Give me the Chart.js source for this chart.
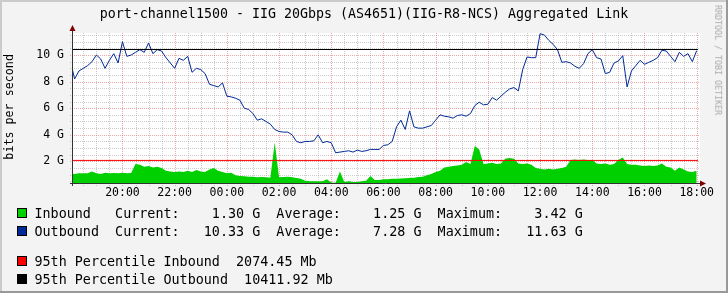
<!DOCTYPE html>
<html><head><meta charset="utf-8">
<script src="https://cdn.jsdelivr.net/npm/chart.js@4.4.0/dist/chart.umd.min.js"></script>
<style>
html,body{margin:0;padding:0;background:#F3F3F3;}
#wrap{position:relative;width:728px;height:293px;overflow:hidden;font-family:"DejaVu Sans Mono",monospace;color:#000;}
#c{position:absolute;left:0;top:0;}
.t{position:absolute;white-space:pre;line-height:1;}
#title{left:0;top:6.6px;width:728px;text-align:center;font-size:13.3px;}
#ylab{font-size:11.7px;width:160px;text-align:center;left:-70px;top:101px;transform:rotate(-90deg);transform-origin:50% 50%;}
#wm{font-size:8.3px;color:#A8A8A8;width:140px;text-align:center;left:648px;top:55.8px;transform:rotate(90deg);transform-origin:50% 50%;}
.row{position:absolute;left:34.5px;font-size:13.4px;white-space:pre;line-height:1;}
.box{position:absolute;left:17px;width:8px;height:8px;border:1px solid #000;}
</style></head><body>
<div id="wrap">
<canvas id="c" width="728" height="293"></canvas>
<div id="title" class="t">port-channel1500 - IIG 20Gbps (AS4651)(IIG-R8-NCS) Aggregated Link</div>
<div id="ylab" class="t">bits per second</div>
<div id="wm" class="t">RRDTOOL / TOBI OETIKER</div>
<div id="legend"></div>
</div>
<script>
// ---- data (values in Gbit/s, one sample every 10 minutes from 18:00 to 18:00 next day) ----
const startHour = 18;
const stepMinutes = 10;
const outboundG = [
 9.6, 8.2, 8.8, 9.0, 9.2, 9.5, 10.0, 9.7, 9.0, 9.6, 10.1, 9.4,
 11.0, 9.9, 10.0, 10.2, 10.4, 10.2, 10.9, 10.1, 10.4, 10.3, 9.8, 9.4,
 9.0, 9.75, 9.6, 9.9, 8.7, 9.0, 8.9, 8.6, 7.8, 7.7, 7.6, 7.9,
 6.9, 6.85, 6.75, 6.6, 6.0, 5.9, 5.6, 5.1, 5.2, 5.0, 4.8, 4.4,
 4.25, 4.2, 4.2, 4.0, 3.5, 3.4, 3.5, 3.5, 3.55, 4.0, 3.4, 3.5,
 3.4, 2.65, 2.7, 2.75, 2.8, 2.7, 2.85, 2.75, 2.8, 2.9, 2.9, 2.9,
 3.2, 3.25, 3.5, 4.6, 5.1, 4.4, 5.8, 4.6, 4.5, 4.5, 4.6, 4.7,
 5.1, 5.5, 5.4, 5.35, 5.25, 5.45, 5.5, 5.4, 5.6, 6.2, 6.45, 6.25,
 6.3, 6.8, 6.6, 6.9, 7.2, 7.45, 7.55, 7.3, 8.9, 9.85, 9.8, 9.8,
 11.6, 11.5, 11.1, 10.8, 10.4, 9.45, 9.5, 9.4, 9.15, 9.0, 9.35, 10.1,
 10.4, 9.8, 9.7, 8.6, 8.7, 9.4, 9.55, 9.95, 7.6, 8.8, 9.2, 9.6,
 9.3, 9.45, 9.6, 9.8, 10.35, 10.3, 9.9, 9.5, 10.2, 9.9, 10.1, 9.5,
 10.33
];
const inboundG = [
 1.1, 1.05, 1.1, 1.1, 1.1, 1.25, 1.1, 1.05, 1.15, 1.1, 1.12, 1.1,
 1.15, 1.1, 1.12, 1.8, 1.75, 1.6, 1.65, 1.55, 1.6, 1.5, 1.3, 1.25,
 1.2, 1.25, 1.2, 1.3, 1.2, 1.35, 1.25, 1.2, 1.4, 1.5, 1.3, 1.2,
 1.1, 1.15, 0.95, 0.9, 0.88, 0.85, 0.85, 0.8, 0.82, 0.8, 0.78, 3.42,
 0.8, 0.82, 0.85, 0.8, 0.75, 0.7, 0.55, 0.5, 0.5, 0.5, 0.5, 0.65,
 0.42, 0.4, 1.25, 0.45, 0.5, 0.45, 0.45, 0.5, 0.55, 0.9, 0.6, 0.6,
 0.65, 0.65, 0.7, 0.7, 0.72, 0.73, 0.75, 0.78, 0.82, 0.85, 0.95, 1.05,
 1.2, 1.3, 1.55, 1.6, 1.65, 1.7, 1.75, 1.95, 1.8, 3.15, 2.9, 1.8,
 1.85, 1.9, 1.8, 1.85, 2.2, 2.25, 2.2, 1.85, 1.8, 1.85, 1.75, 1.5,
 1.45, 1.4, 1.45, 1.4, 1.45, 1.5, 1.6, 2.1, 2.15, 2.1, 2.15, 2.1,
 2.1, 1.85, 1.8, 1.85, 1.75, 1.8, 2.1, 2.3, 1.8, 1.75, 1.75, 1.7,
 1.65, 1.7, 1.65, 1.7, 1.85, 1.6, 1.55, 1.3, 1.55, 1.4, 1.25, 1.2,
 1.3
];
const percentile95Mb = [2074.45, 10411.92];      // inbound, outbound
const inboundStats = [1.30, 1.25, 3.42];          // current, average, maximum (G)
const outboundStats = [10.33, 7.28, 11.63];
const xTickHours = [2, 4, 6, 8, 10, 12, 14, 16, 18, 20, 22, 24];
const xTickLabels = ['20:00','22:00','00:00','02:00','04:00','06:00','08:00','10:00','12:00','14:00','16:00','18:00'];
const yTickValuesG = [2, 4, 6, 8, 10];
const yTickLabels = ['2 G','4 G','6 G','8 G','10 G'];

// ---- axis ranges (hours since 18:00 / bits per second) ----
const X_MIN = 0.067, X_MAX = 24.05;
const Y_MIN = 0.376e9, Y_MAX = 11.654e9;

const hours = outboundG.map((_, i) => i * stepMinutes / 60);
const G = 1e9;

const COLORS = {inb:'#00CF00', outb:'#002A97', p95in:'#FF0000', p95out:'#000000'};

const bgPlugin = {
  id:'rrdbg',
  beforeDraw(chart){
    const {ctx, chartArea:a, width:W, height:H} = chart;
    ctx.save();
    ctx.fillStyle = '#F3F3F3'; ctx.fillRect(0,0,W,H);
    ctx.fillStyle = '#CBCBCB'; ctx.fillRect(0,0,W,2); ctx.fillRect(0,0,2,H);
    ctx.fillStyle = '#999999'; ctx.fillRect(0,H-2,W,2); ctx.fillRect(W-2,0,2,H);
    ctx.fillStyle = '#FFFFFF'; ctx.fillRect(a.left, a.top, a.right - a.left + 2, a.bottom - a.top);
    ctx.restore();
  }
};

const gridPlugin = {
  id:'rrdgrid',
  beforeDatasetsDraw(chart){
    const {ctx, chartArea:a, scales:{x, y}} = chart;
    ctx.save();
    ctx.lineWidth = 1;
    ctx.setLineDash([1,1]);
    const minorC = 'rgba(143,143,143,0.46)', majorC = 'rgba(222,80,80,0.5)';
    const vline = (t, c) => { const px = Math.round(x.getPixelForValue(t)) + 0.5; ctx.strokeStyle = c; ctx.beginPath(); ctx.moveTo(px, a.top); ctx.lineTo(px, a.bottom + 3); ctx.stroke(); };
    const hline = (v, c) => { const py = Math.round(y.getPixelForValue(v)) + 0.5; ctx.strokeStyle = c; ctx.beginPath(); ctx.moveTo(a.left - 2, py); ctx.lineTo(a.right + 1, py); ctx.stroke(); };
    for (let h = 0.5; h <= X_MAX; h += 0.5) if (xTickHours.indexOf(h) < 0) vline(h, minorC);
    for (let v = 0.5; v * G <= Y_MAX; v += 0.5) if (yTickValuesG.indexOf(v) < 0 && v * G >= Y_MIN) hline(v * G, minorC);
    xTickHours.forEach(h => vline(h, majorC));
    yTickValuesG.forEach(v => hline(v * G, majorC));
    ctx.restore();
  }
};

const axesPlugin = {
  id:'rrdaxes',
  afterDatasetsDraw(chart){
    const {ctx, chartArea:a} = chart;
    ctx.save();
    ctx.setLineDash([]);
    ctx.lineWidth = 1;
    ctx.strokeStyle = '#333333';
    const y0 = a.bottom + 0.5, x0 = a.left + 0.5;
    ctx.beginPath(); ctx.moveTo(a.left - 2, y0); ctx.lineTo(a.right + 3, y0); ctx.stroke();
    ctx.beginPath(); ctx.moveTo(x0, a.bottom + 3); ctx.lineTo(x0, a.top - 2); ctx.stroke();
    ctx.fillStyle = '#7F0000';
    ctx.beginPath(); ctx.moveTo(a.right + 2, y0 - 3); ctx.lineTo(a.right + 8, y0); ctx.lineTo(a.right + 2, y0 + 3); ctx.closePath(); ctx.fill();
    ctx.beginPath(); ctx.moveTo(x0 - 3, a.top - 2); ctx.lineTo(x0, a.top - 8); ctx.lineTo(x0 + 3, a.top - 2); ctx.closePath(); ctx.fill();
    ctx.restore();
  }
};

const tickFont = {family:'DejaVu Sans Mono', size:11.5};

new Chart(document.getElementById('c'), {
  type:'line',
  data:{datasets:[
    {label:'95th Percentile Inbound', data:[{x:X_MIN, y:percentile95Mb[0]*1e6},{x:X_MAX, y:percentile95Mb[0]*1e6}], borderColor:COLORS.p95in, borderWidth:1, pointRadius:0, fill:false, order:0},
    {label:'95th Percentile Outbound', data:[{x:X_MIN, y:percentile95Mb[1]*1e6},{x:X_MAX, y:percentile95Mb[1]*1e6}], borderColor:COLORS.p95out, borderWidth:1, pointRadius:0, fill:false, order:0},
    {label:'Outbound', data:hours.map((h,i)=>({x:h, y:outboundG[i]*G})), borderColor:COLORS.outb, borderWidth:1, pointRadius:0, tension:0, fill:false, order:1},
    {label:'Inbound', data:hours.map((h,i)=>({x:h, y:inboundG[i]*G})), borderColor:'rgba(0,0,0,0)', borderWidth:0, backgroundColor:COLORS.inb, pointRadius:0, tension:0, fill:'origin', order:2}
  ]},
  options:{
    responsive:false, animation:false, events:[],
    layout:{padding:{left:0, right:30, top:33, bottom:90}},
    plugins:{legend:{display:false}, tooltip:{enabled:false}, title:{display:false}},
    scales:{
      x:{type:'linear', min:X_MIN, max:X_MAX,
         afterBuildTicks:s=>{ s.ticks = xTickHours.map(v=>({value:v})); },
         afterFit:s=>{ s.height = 20; },
         ticks:{autoSkip:false, maxRotation:0, minRotation:0, padding:3, color:'#000', font:tickFont,
                callback:(v)=>{ const i = xTickHours.indexOf(v); return i >= 0 ? xTickLabels[i] : ''; }},
         grid:{display:false, drawTicks:false}, border:{display:false}},
      y:{type:'linear', min:Y_MIN, max:Y_MAX,
         afterBuildTicks:s=>{ s.ticks = yTickValuesG.map(v=>({value:v*G})); },
         afterFit:s=>{ s.width = 72; },
         ticks:{padding:8, color:'#000', font:tickFont,
                callback:(v)=>{ const i = yTickValuesG.indexOf(Math.round(v/G*1000)/1000); return i >= 0 ? yTickLabels[i] : ''; }},
         grid:{display:false, drawTicks:false}, border:{display:false}}
    }
  },
  plugins:[bgPlugin, gridPlugin, axesPlugin]
});

// ---- legend ----
const f8 = v => v.toFixed(2).padStart(8);
const rows = [
  {cy:213, color:COLORS.inb, text:'Inbound   Current:' + f8(inboundStats[0]) + ' G  Average:' + f8(inboundStats[1]) + ' G  Maximum:' + f8(inboundStats[2]) + ' G'},
  {cy:231, color:COLORS.outb, text:'Outbound  Current:' + f8(outboundStats[0]) + ' G  Average:' + f8(outboundStats[1]) + ' G  Maximum:' + f8(outboundStats[2]) + ' G'},
  {cy:261, color:COLORS.p95in, text:'95th Percentile Inbound  ' + percentile95Mb[0].toFixed(2) + ' Mb'},
  {cy:279, color:COLORS.p95out, text:'95th Percentile Outbound  ' + percentile95Mb[1].toFixed(2) + ' Mb'}
];
const lg = document.getElementById('legend');
rows.forEach(r => {
  const b = document.createElement('div'); b.className = 'box'; b.style.top = (r.cy - 5) + 'px'; b.style.background = r.color; lg.appendChild(b);
  const t = document.createElement('div'); t.className = 'row'; t.style.top = (r.cy - 6.4) + 'px'; t.textContent = r.text; lg.appendChild(t);
});
</script>
</body></html>
